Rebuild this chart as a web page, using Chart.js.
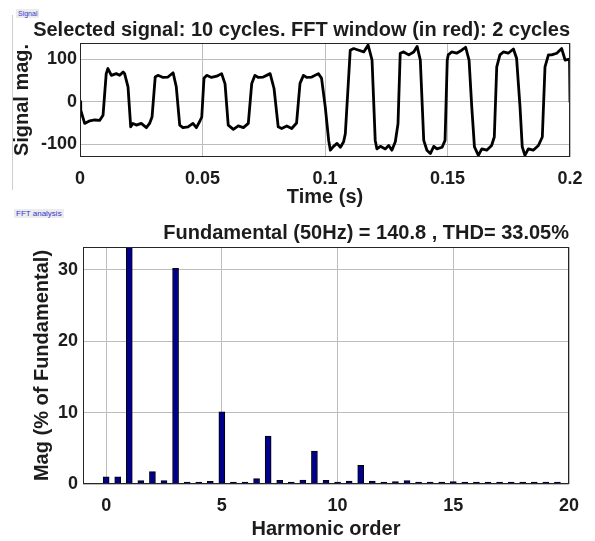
<!DOCTYPE html>
<html>
<head>
<meta charset="utf-8">
<script src="https://cdn.jsdelivr.net/npm/chart.js@4.4.0/dist/chart.umd.min.js"></script>
<style>
  body { margin: 0; background: #fff; }
  #wrap { position: relative; width: 595px; height: 541px; }
  canvas { position: absolute; left: 0; }
  .tag { position: absolute; font: 7px "Liberation Sans", Arial, sans-serif; color: #3636d0; background: #ececec; padding: 0 2px; line-height: 9px; }
  #rule { position: absolute; left: 12px; top: 15px; height: 175px; border-left: 1px solid #cfcfcf; }
</style>
</head>
<body>
<div id="wrap">
  <div id="rule"></div>
  <span class="tag" style="left:16px;top:9px;">Signal</span>
  <span class="tag" style="left:14px;top:209px;font-size:8px;">FFT analysis</span>
  <canvas id="sig" width="595" height="210" style="top:0"></canvas>
  <canvas id="fft" width="595" height="336" style="top:205px"></canvas>
</div>
<script>
// signal trace (time in ms, magnitude)
const SIG_T = [
  0, 0.3, 1.9, 4, 6, 8, 9.4, 10.7, 11.4, 12.8, 14.8, 16.2, 17.6, 18.2, 19.6,
  20.7, 21.6, 23, 25, 27.1, 28.4, 29.4, 30.7, 31.8, 33.9, 35.9, 38, 39.3,
  40.7, 42, 44.1, 46.1, 47.5, 48.9, 49.7, 50.6, 51.7, 53.7, 55.8, 57.8, 59.2,
  60.5, 62.6, 64.6, 66.7, 68.7, 70.1, 71.4, 72.8, 74.8, 77.6, 79.2,
  80.9, 82.3, 84.4, 86.4, 88.4, 89.8, 91.2, 92.5, 94.6, 97.3, 98.6,
  100.1, 101.5, 102.2, 103.5, 104.9, 106.3, 107.6, 108.3, 110.3, 111.7, 113.8, 115.8, 117.6, 119.2,
  120.5, 121.2, 122.6, 124.6, 126, 127.3, 128.7, 129.8, 130.7, 132.1, 134.2, 136.2, 137.6, 138.9,
  140.3, 141.6, 143, 144.4, 145.7, 147.8, 149.0, 149.9, 150.3, 151.7, 153.7, 155.8, 157.4, 158.8,
  159.9, 161, 162.6, 164, 166, 168, 169.1, 170.1, 171.4, 172.8, 174.8, 176.9, 178.2,
  179.6, 180.5, 181.6, 183, 185, 187.1, 188.7, 189.8, 191.2, 192.5, 194.6, 196.6, 198, 199.8, 200
];
const SIG_V = [
  0, -20, -51, -45, -43, -44, -32, 66, 78, 62, 66, 62, 70, 66, 35,
  -59, -51, -55, -51, -61, -51, -36, 58, 62, 57, 58, 68, 35,
  -55, -61, -59, -51, -61, -46, -36, 55, 62, 57, 60, 66, 42,
  -55, -65, -57, -61, -51, 43, 62, 57, 58, 66, 31,
  -59, -63, -57, -63, -50, 43, 62, 57, 58, 66, 55,
  -12, -91, -114, -105, -98, -107, -94, -75, 121, 125, 121, 117, 133, 98,
  -91, -111, -105, -111, -103, -114, -94, -52, 114, 117, 110, 117, 130, 98,
  -91, -114, -122, -105, -111, -107, -91, 98, 110, 117, 114, 121, 128, 98,
  -12, -106, -126, -111, -114, -103, -83, 82, 110, 117, 114, 124, 102,
  -12, -106, -126, -111, -114, -103, -83, 82, 110, 110, 114, 125, 98, 100, 0
];
const SIG_X_TICKS = [0, 0.05, 0.1, 0.15, 0.2];
const SIG_Y_TICKS = [-100, 0, 100];

// harmonic spectrum, % of fundamental (fundamental clipped at the top)
const HARM = [
  0, 0.5, 1, 1.5, 2, 2.5, 3, 3.5, 4, 4.5, 5, 5.5, 6, 6.5, 7, 7.5, 8, 8.5, 9, 9.5,
  10, 10.5, 11, 11.5, 12, 12.5, 13, 13.5, 14, 14.5, 15, 15.5, 16, 16.5, 17, 17.5, 18, 18.5, 19, 19.5
];
const MAG = [
  1.0, 1.0, 100, 0.47, 1.73, 0.47, 30.2, 0.2, 0.2, 0.37, 10.1, 0.2, 0.28, 0.75, 6.7, 0.5, 0.2, 0.55, 4.6, 0.5,
  0.15, 0.42, 2.6, 0.42, 0.15, 0.33, 0.47, 0.1, 0.12, 0.28, 0.33, 0.05, 0.08, 0.18, 0.18, 0.08, 0.08, 0.08, 0.08, 0.08
];
const FFT_X_TICKS = [0, 5, 10, 15, 20];
const FFT_Y_TICKS = [0, 10, 20, 30];

const FONT = '"Liberation Sans", Arial, Helvetica, sans-serif';
const INK = '#1c1c1c';
const GRID = '#bdbdbd';

// black box round the plot area, like the MATLAB axes
const frame = {
  id: 'frame',
  afterDatasetsDraw(chart) {
    const { ctx, chartArea: a } = chart;
    ctx.save();
    ctx.strokeStyle = '#262626';
    ctx.lineWidth = 1;
    ctx.strokeRect(a.left + 0.5, a.top + 0.5, a.width - 1, a.height - 1);
    ctx.restore();
  }
};

function fixedTicks(list) {
  return s => { s.ticks = list.map(v => ({ value: v })); };
}

function axis(opts) {
  return {
    type: 'linear',
    min: opts.min, max: opts.max,
    offset: false,
    afterBuildTicks: fixedTicks(opts.ticks),
    afterFit: opts.fit,
    border: { display: false },
    grid: { color: GRID, lineWidth: 1, drawTicks: false, offset: false },
    ticks: {
      padding: opts.pad,
      color: INK,
      font: { family: FONT, size: 18, weight: 'bold' },
      callback: v => String(v)
    },
    title: {
      display: true,
      text: opts.title,
      color: INK,
      padding: opts.titlePad,
      font: { family: FONT, size: 20, weight: 'bold' }
    }
  };
}

new Chart(document.getElementById('sig'), {
  type: 'line',
  data: {
    datasets: [{
      data: SIG_T.map((t, i) => ({ x: t / 1000, y: SIG_V[i] })),
      borderColor: '#000',
      borderWidth: 2.8,
      borderJoinStyle: 'round',
      borderCapStyle: 'round',
      pointRadius: 0,
      tension: 0
    }]
  },
  options: {
    responsive: false,
    animation: false,
    layout: { padding: { left: 0, right: 25, top: 0, bottom: 0 } },
    plugins: {
      legend: { display: false },
      tooltip: { enabled: false },
      title: {
        display: true,
        align: 'end',
        text: 'Selected signal: 10 cycles. FFT window (in red): 2 cycles',
        color: INK,
        padding: { top: 18, bottom: 1 },
        font: { family: FONT, size: 20, weight: 'bold' }
      }
    },
    scales: {
      x: axis({ min: 0, max: 0.2, ticks: SIG_X_TICKS, pad: 11, title: 'Time (s)',
                titlePad: { top: 0, bottom: 1 }, fit: s => { s.height = 53; } }),
      y: axis({ min: -130, max: 138, ticks: SIG_Y_TICKS, pad: 3, title: 'Signal mag.',
                titlePad: { top: 10, bottom: 0 }, fit: s => { s.width = 80; } })
    }
  },
  plugins: [frame]
});

new Chart(document.getElementById('fft'), {
  type: 'bar',
  data: {
    datasets: [{
      data: HARM.map((h, i) => ({ x: h, y: MAG[i] })),
      backgroundColor: '#00008c',
      borderColor: '#000',
      borderWidth: 1,
      barThickness: 6,
      minBarLength: 2
    }]
  },
  options: {
    responsive: false,
    animation: false,
    layout: { padding: { left: 0, right: 26, top: 0, bottom: 0 } },
    plugins: {
      legend: { display: false },
      tooltip: { enabled: false },
      title: {
        display: true,
        align: 'end',
        text: 'Fundamental (50Hz) = 140.8 , THD= 33.05%',
        color: INK,
        padding: { top: 16, bottom: 2 },
        font: { family: FONT, size: 20, weight: 'bold' }
      }
    },
    scales: {
      x: axis({ min: -1, max: 20, ticks: FFT_X_TICKS, pad: 11, title: 'Harmonic order',
                titlePad: { top: 0, bottom: 0 }, fit: s => { s.height = 57; } }),
      y: axis({ min: 0, max: 33.2, ticks: FFT_Y_TICKS, pad: 5, title: 'Mag (% of Fundamental)',
                titlePad: { top: 30, bottom: 0 }, fit: s => { s.width = 83; } })
    }
  },
  plugins: [frame]
});
</script>
</body>
</html>
